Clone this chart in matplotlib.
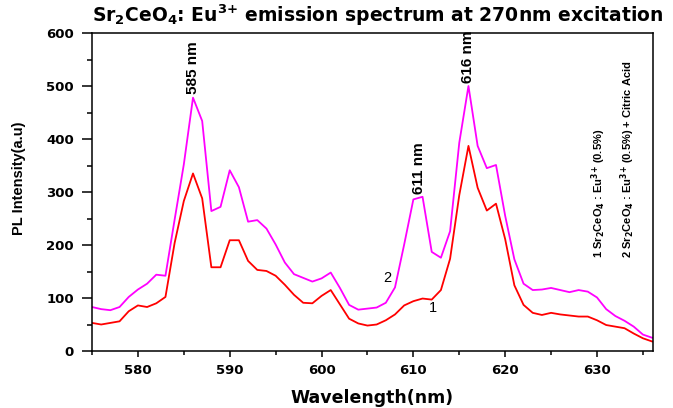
import numpy as np
import matplotlib
matplotlib.use("Agg")
import matplotlib.pyplot as plt
from matplotlib.ticker import MultipleLocator

plt.rcParams.update({"font.family": ["Liberation Sans", "DejaVu Sans"],
                     "font.weight": "bold",
                     "mathtext.fontset": "dejavusans",
                     "mathtext.default": "bf"})
WIDE = ["DejaVu Sans"]  # stands in for the letter-spaced Origin text

wavelength = np.arange(575, 637)
# 1: Sr2CeO4:Eu3+ (0.5%)
pl_1 = [53, 50, 53, 56, 75, 86, 83, 90, 102, 204, 283, 335, 288, 158, 158,
        209, 209, 170, 153, 151, 142, 125, 106, 91, 90, 104, 115, 88, 61, 52,
        48, 50, 58, 69, 86, 94, 99, 97, 115, 174, 294, 387, 308, 265, 278,
        211, 124, 87, 72, 68, 72, 69, 67, 65, 65, 58, 49, 46, 43, 33, 24, 18]
# 2: Sr2CeO4:Eu3+ (0.5%) + citric acid
pl_2 = [83, 79, 77, 83, 102, 116, 127, 144, 142, 248, 352, 478, 434, 264, 272,
        341, 309, 244, 247, 231, 201, 167, 145, 138, 131, 137, 148, 119, 87, 78,
        80, 82, 91, 120, 201, 286, 291, 187, 176, 226, 393, 500, 387, 345, 351,
        255, 173, 127, 115, 116, 119, 115, 111, 115, 112, 101, 79, 66, 57, 46, 31, 25]

peak_labels = ["585 nm", "611 nm", "616 nm"]
peak_pos = [(586, 484), (610.6, 296), (616, 505)]

fig = plt.figure(figsize=(6.73, 4.08), dpi=100)
ax = fig.add_axes([0.1367, 0.1397, 0.8336, 0.7794])

ax.plot(wavelength, pl_1, color="#ff0000", lw=1.3)
ax.plot(wavelength, pl_2, color="#ff00ff", lw=1.3)

ax.set_xlim(575, 636.1)
ax.set_ylim(0, 600)
ax.xaxis.set_major_locator(MultipleLocator(10))
ax.xaxis.set_minor_locator(MultipleLocator(5))
ax.yaxis.set_major_locator(MultipleLocator(100))
ax.yaxis.set_minor_locator(MultipleLocator(50))
ax.tick_params(axis="x", which="major", direction="out", length=4.5, width=1.1, pad=4.5)
ax.tick_params(axis="x", which="minor", direction="out", length=3, width=1.1)
ax.tick_params(axis="y", which="major", direction="out", length=7, width=1.1, pad=6)
ax.tick_params(axis="y", which="minor", direction="out", length=3.6, width=1.1)
for lab in ax.get_xticklabels() + ax.get_yticklabels():
    lab.set_family(WIDE)
    lab.set_fontsize(9.5)
    lab.set_fontweight("bold")
for sp in ax.spines.values():
    sp.set_linewidth(1.1)

for lab, (x, y) in zip(peak_labels, peak_pos):
    ax.text(x, y, lab, rotation=90, ha="center", va="bottom", fontsize=11, fontweight="bold")

ax.text(607.2, 138, "2", fontsize=10.5, fontweight="normal", ha="center", va="center")
ax.text(612.1, 81, "1", fontsize=10.5, fontweight="normal", ha="center", va="center")

ax.text(630.2, 176, r"1 Sr$_2$CeO$_4$ : Eu$^{3{+}}$ (0.5%)", rotation=90,
        ha="center", va="bottom", fontsize=8, fontweight="bold")
ax.text(633.3, 176, r"2 Sr$_2$CeO$_4$ : Eu$^{3{+}}$ (0.5%) + Citric Acid", rotation=90,
        ha="center", va="bottom", fontsize=8, fontweight="bold")

ax.set_xlabel("Wavelength(nm)", fontsize=12.5, fontweight="bold", family=WIDE)
ax.xaxis.set_label_coords(0.5, -0.118)
ax.set_ylabel("PL Intensity(a.u)", fontsize=10.5, fontweight="bold")
ax.yaxis.set_label_coords(-0.118, 0.542)
fig.text(0.562, 1 - 22 / 408, r"Sr$_2$CeO$_4$: Eu$^{3{+}}$ emission spectrum at 270nm excitation",
         ha="center", va="baseline", fontsize=13.5, fontweight="bold", family=WIDE)

fig.savefig("out.png", dpi=100)
